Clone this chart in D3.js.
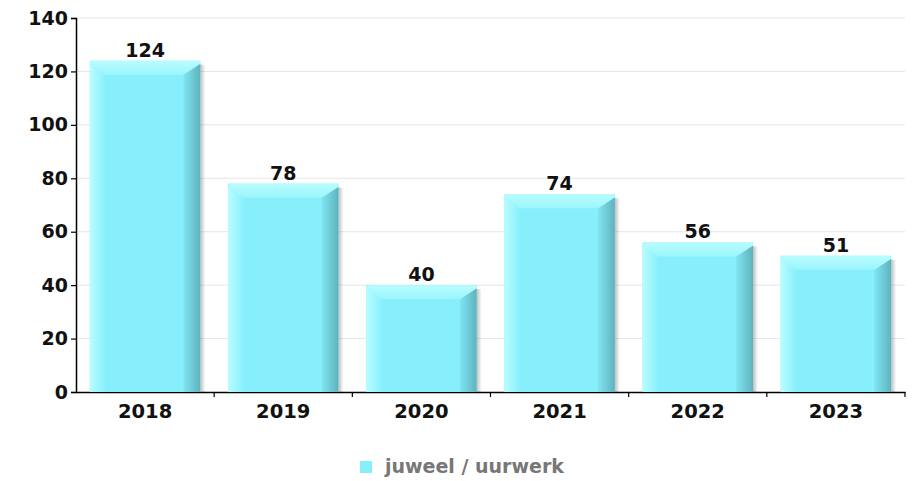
<!DOCTYPE html>
<html>
<head>
<meta charset="utf-8">
<script src="https://cdn.jsdelivr.net/npm/d3@7"></script>
<style>
  html, body { margin: 0; padding: 0; background: #fff; }
  svg { display: block; font-family: "DejaVu Sans", sans-serif; }
</style>
</head>
<body>
<svg id="chart" width="913" height="481"></svg>
<script>
// Yearly counts for the single series
const years = ["2018", "2019", "2020", "2021", "2022", "2023"];
const counts = [124, 78, 40, 74, 56, 51];
const yTicks = [0, 20, 40, 60, 80, 100, 120, 140];
const seriesName = "juweel / uurwerk";

const svg = d3.select("#chart");
const margin = { left: 76, right: 8, top: 18, bottom: 89 };
const W = 913, H = 481;

const x = d3.scaleBand().domain(years).range([margin.left, W - margin.right]).paddingInner(0.2).paddingOuter(0.1);
const y = d3.scaleLinear().domain([0, 140]).range([H - margin.bottom, margin.top]);
const xBand = d3.scaleBand().domain(years).range([margin.left, W - margin.right]);

const defs = svg.append("defs");
function hGrad(id, stops) {
  const g = defs.append("linearGradient").attr("id", id).attr("x1", 0).attr("x2", 1).attr("y1", 0).attr("y2", 0);
  stops.forEach(s => g.append("stop").attr("offset", s[0]).attr("stop-color", s[1]).attr("stop-opacity", s[2] == null ? 1 : s[2]));
}
function vGrad(id, stops) {
  const g = defs.append("linearGradient").attr("id", id).attr("x1", 0).attr("x2", 0).attr("y1", 0).attr("y2", 1);
  stops.forEach(s => g.append("stop").attr("offset", s[0]).attr("stop-color", s[1]));
}
hGrad("leftFace", [[0, "#b8fdff"], [1, "#8af1fd"]]);
hGrad("rightFace", [[0, "#80e6f2"], [1, "#5fb2bd"]]);
vGrad("topFace", [[0, "#b8fdff"], [1, "#9cf5fd"]]);
hGrad("shadow", [[0, "#000", 0.25], [1, "#000", 0]]);

// gridlines
svg.append("g").selectAll("line").data(yTicks.filter(d => d > 0)).join("line")
  .attr("x1", margin.left).attr("x2", W - margin.right)
  .attr("y1", d => y(d)).attr("y2", d => y(d))
  .attr("stroke", "#e6e6e6").attr("stroke-width", 1);

// x axis (drawn beneath bars)
const xAxis = svg.append("g").attr("transform", `translate(0,${y(0)})`)
  .call(d3.axisBottom(xBand).tickSize(0).tickPadding(12));
xAxis.select(".domain").attr("stroke", "#000").attr("stroke-width", 1.5);
xAxis.selectAll("text").attr("font-size", 19.5).attr("font-weight", "bold").attr("fill", "#111")
  .attr("font-family", "DejaVu Sans, sans-serif");
// boundary ticks between categories
svg.append("g").selectAll("line").data(years).join("line")
  .attr("x1", d => xBand(d) + xBand.step())
  .attr("x2", d => xBand(d) + xBand.step())
  .attr("y1", y(0)).attr("y2", y(0) + 5)
  .attr("stroke", "#000").attr("stroke-width", 1.2);

// bars with bevelled faces
const bw = x.bandwidth();
const sideL = 15, sideR = 17, topH = 14;
const bars = svg.append("g").selectAll("g").data(years.map((c, i) => ({ c, v: counts[i] }))).join("g");
bars.each(function(d) {
  const g = d3.select(this);
  const x0 = x(d.c), x1 = x0 + bw, t = y(d.v), b = y(0);
  g.append("rect").attr("x", x1).attr("y", t + 4).attr("width", 5).attr("height", b - t - 4).attr("fill", "url(#shadow)");
  g.append("rect").attr("x", x0).attr("y", t).attr("width", bw).attr("height", b - t).attr("fill", "#87effc");
  g.append("path").attr("fill", "url(#leftFace)")
    .attr("d", `M${x0},${t + 3}L${x0 + sideL},${t + topH}L${x0 + sideL},${b}L${x0},${b}Z`);
  g.append("path").attr("fill", "url(#rightFace)")
    .attr("d", `M${x1},${t + 3}L${x1},${b}L${x1 - sideR},${b}L${x1 - sideR},${t + topH}Z`);
  g.append("path").attr("fill", "url(#topFace)")
    .attr("d", `M${x0 + 3},${t}L${x1 - 3},${t}Q${x1},${t} ${x1},${t + 3}L${x1 - sideR},${t + topH}L${x0 + sideL},${t + topH}L${x0},${t + 3}Q${x0},${t} ${x0 + 3},${t}Z`);
  g.append("text").attr("x", x0 + bw / 2).attr("y", t - 4).attr("text-anchor", "middle")
    .attr("font-size", 19).attr("font-weight", "bold").attr("fill", "#111").text(d.v);
});

// y axis
const yAxis = svg.append("g").attr("transform", `translate(${margin.left},0)`)
  .call(d3.axisLeft(y).tickValues(yTicks).tickSize(5).tickPadding(3));
yAxis.select(".domain").attr("stroke", "#000").attr("stroke-width", 1.5);
yAxis.selectAll(".tick line").attr("stroke", "#000").attr("stroke-width", 1.2);
yAxis.selectAll("text").attr("font-size", 19).attr("font-weight", "bold").attr("fill", "#111")
  .attr("font-family", "DejaVu Sans, sans-serif");

// legend
const lg = svg.append("g").attr("transform", "translate(360,461)");
lg.append("rect").attr("width", 12).attr("height", 12).attr("fill", "#87effc");
lg.append("text").attr("x", 25).attr("y", 12).attr("font-size", 19).attr("font-weight", "bold")
  .attr("fill", "#777").text(seriesName);
</script>
</body>
</html>
